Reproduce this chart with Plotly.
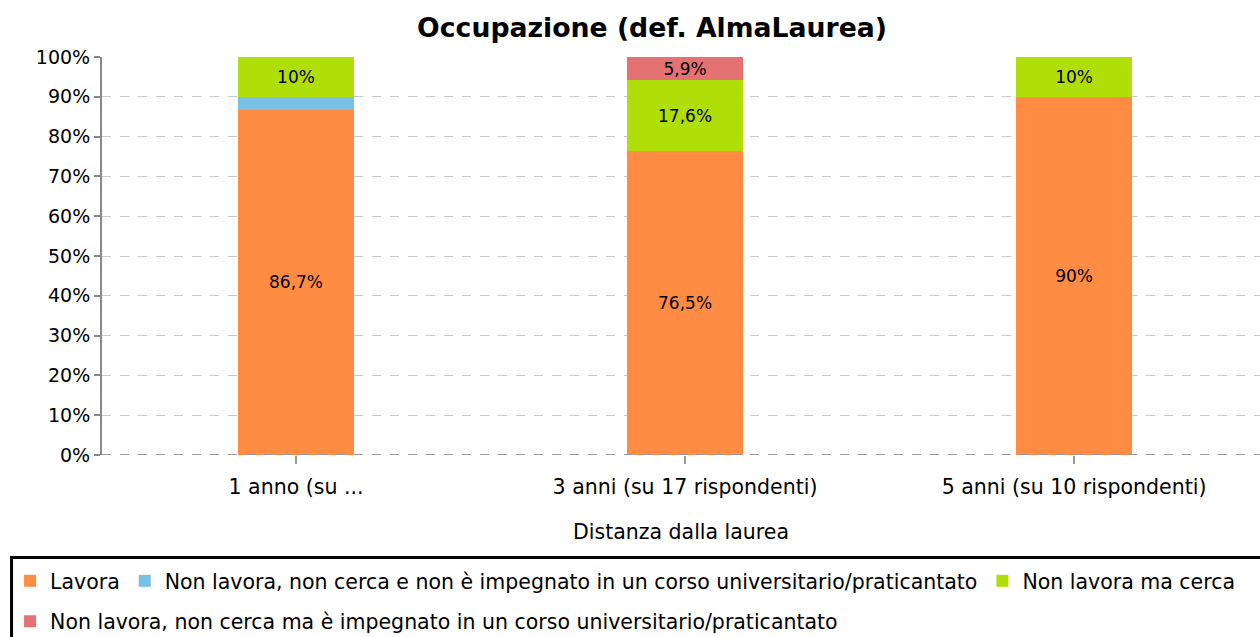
import plotly.graph_objects as go

categories = ["1 anno (su ...", "3 anni (su 17 rispondenti)", "5 anni (su 10 rispondenti)"]
series_names = [
    "Lavora",
    "Non lavora, non cerca e non è impegnato in un corso universitario/praticantato",
    "Non lavora ma cerca",
    "Non lavora, non cerca ma è impegnato in un corso universitario/praticantato",
]
lavora = [86.7, 76.5, 90.0]
non_cerca_non_impegnato = [3.3, 0.0, 0.0]
cerca = [10.0, 17.6, 10.0]
impegnato = [0.0, 5.9, 0.0]
colors = ["#FF8C42", "#78C1E4", "#B0DE09", "#E47272"]
legend_rows = ["legend", "legend", "legend", "legend2"]
y_ticks = [0, 10, 20, 30, 40, 50, 60, 70, 80, 90, 100]
y_tick_labels = [f"{v}%" for v in y_ticks]

FONT = "DejaVu Sans"


def fmt(v):
    if v < 4:
        return ""
    s = f"{v:.1f}".rstrip("0").rstrip(".")
    return s.replace(".", ",") + "%"


fig = go.Figure()
for name, vals, col, lg in zip(series_names, [lavora, non_cerca_non_impegnato, cerca, impegnato], colors, legend_rows):
    fig.add_trace(go.Bar(
        x=categories, y=vals, name=name, legend=lg,
        marker=dict(color=col, line=dict(width=0)),
        text=[fmt(v) for v in vals],
        textposition="inside", insidetextanchor="middle",
        constraintext="none",
        textfont=dict(family=FONT, size=17, color="#000000"),
        textangle=0,
    ))

legend_common = dict(orientation="h", xanchor="left", yanchor="top",
                     borderwidth=0, bgcolor="rgba(0,0,0,0)",
                     font=dict(family=FONT, size=20.5, color="#000000"),
                     traceorder="normal", itemwidth=30)

fig.update_layout(
    barmode="stack",
    bargap=0.7,
    width=1260, height=637,
    margin=dict(l=102, r=0, t=57, b=182),
    paper_bgcolor="white", plot_bgcolor="white",
    font=dict(family=FONT, size=19, color="#000000"),
    title=dict(text="<b>Occupazione (def. AlmaLaurea)</b>", xref="container", x=0.5175,
               xanchor="center", yref="container", y=0.956, yanchor="middle",
               font=dict(family=FONT, size=26.7, color="#000000")),
    showlegend=True,
    legend=dict(xref="paper", yref="paper", x=-0.0794, y=-0.2663, **legend_common),
    legend2=dict(xref="paper", yref="container", x=-0.0794, y=0.0557, **legend_common),
)
fig.update_yaxes(
    range=[0, 100], tickvals=y_ticks, ticktext=y_tick_labels,
    showgrid=True, gridcolor="#c8c8c8", griddash="dash", gridwidth=1,
    zeroline=False, showline=True, linecolor="#888888", linewidth=2,
    ticks="outside", ticklen=6, tickwidth=2, tickcolor="#888888",
    tickfont=dict(family=FONT, size=19, color="#000000"),
)
fig.update_xaxes(
    range=[-0.4987, 2.478],
    showgrid=False, showline=False, ticks="outside", ticklen=8, tickwidth=2, tickcolor="#999999",
    ticklabelstandoff=5,
    tickfont=dict(family=FONT, size=20.5, color="#000000"),
    title=dict(text="Distanza dalla laurea", font=dict(family=FONT, size=20.5, color="#000000"), standoff=27),
)
fig.add_shape(type="line", xref="paper", yref="y", x0=0, x1=1, y0=0, y1=0,
              line=dict(color="#999999", width=2, dash="dash"), layer="above")
# legend frame
fig.add_shape(type="rect", xref="paper", yref="paper", x0=-0.0781, x1=1.02, y0=-0.2575, y1=-0.6,
              line=dict(color="#000000", width=3), fillcolor="rgba(0,0,0,0)", layer="above")

fig.write_html("out.html", config={"displayModeBar": False},
               post_script="document.body.style.margin='0px';")
